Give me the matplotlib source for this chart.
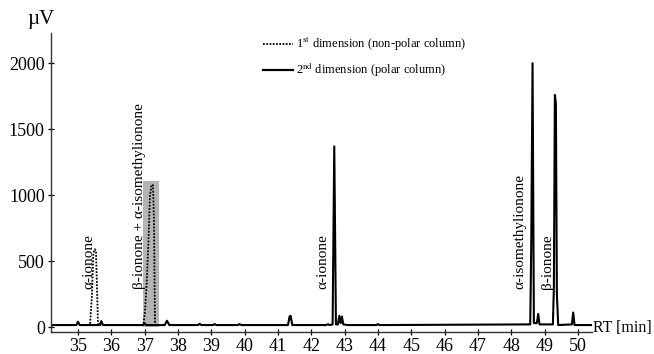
import matplotlib
matplotlib.use("Agg")
from matplotlib import pyplot as plt

plt.rcParams['font.family'] = ['Liberation Serif', 'DejaVu Serif']
plt.rcParams['mathtext.fontset'] = 'stix'

# 2nd dimension (polar column) trace
rt_2nd = [34.2, 34.95, 35.0, 35.05, 35.65, 35.7, 35.75, 36.95, 37.0, 37.05,
          37.6, 37.67, 37.74, 38.6, 38.65, 38.7, 39.05, 39.1, 39.15, 39.8, 39.85, 39.9,
          41.3, 41.35, 41.38, 41.43, 42.45, 42.5, 42.55, 42.64, 42.69, 42.74,
          42.8, 42.84, 42.88, 42.92, 42.96, 43.1, 43.95, 44.0, 44.05,
          48.57, 48.6, 48.64, 48.68, 48.77, 48.81, 48.85, 49.25, 49.28, 49.31,
          49.34, 49.37, 49.41, 49.82, 49.86, 49.9, 50.42]
uv_2nd = [15, 15, 40, 15, 15, 45, 15, 15, 28, 15,
          15, 48, 15, 15, 25, 15, 15, 22, 15, 15, 22, 15,
          15, 80, 85, 15, 15, 22, 15, 20, 1370, 20,
          20, 85, 30, 80, 20, 15, 15, 22, 15,
          20, 600, 2000, 30, 30, 100, 20, 20, 300, 1760,
          1700, 250, 15, 20, 110, 15, 15]

# 1st dimension (non-polar column) trace, only the heart-cut peaks
rt_1st = [35.3, 35.36, 35.42, 35.46, 35.5, 35.54, 35.57, 35.6, 35.65,
          36.9, 36.96, 37.01, 37.06, 37.11, 37.16, 37.21, 37.25, 37.28, 37.31, 37.36]
uv_1st = [15, 15, 250, 560, 590, 580, 300, 15, 15,
          15, 15, 120, 330, 620, 1000, 1080, 1075, 800, 20, 15]

# heart-cut window
cut_start, cut_end, cut_top = 36.96, 37.44, 1106

peak_labels = ["\u03b1-ionone", "\u03b2-ionone + \u03b1-isomethylionone", "\u03b1-ionone",
               "\u03b1-isomethylionone", "\u03b2-ionone"]
label_rt = [35.33, 36.86, 42.35, 48.27, 49.08]

x_ticks = list(range(35, 51))
y_ticks = [0, 500, 1000, 1500, 2000]

legend_labels = ["1$^{\\mathrm{st}}$ dimension (non-polar column)",
                 "2$^{\\mathrm{nd}}$ dimension (polar column)"]
dotted = (0, (1, 0.8))

fig = plt.figure(figsize=(6.54, 3.54), dpi=100)
ax = fig.add_axes([0.078, 0.062, 0.827, 0.845])

ax.add_patch(plt.Rectangle((cut_start, 0), cut_end - cut_start, cut_top,
                           color="#b4b4b4", lw=0, zorder=1))
ax.plot(rt_1st, uv_1st, color="black", lw=1.3, ls=dotted, zorder=3)
ax.plot(rt_2nd, uv_2nd, color="black", lw=1.5, zorder=2)

for txt, x in zip(peak_labels, label_rt):
    ax.text(x, 290, txt, rotation=90, ha="center", va="bottom", fontsize=11, zorder=4)

ax.set_xlim(34.19, 50.42)
ax.set_ylim(-38, 2230)
ax.set_xticks(x_ticks)
ax.set_yticks(y_ticks)
ax.tick_params(direction="inout", length=5, width=0.9, labelsize=13, pad=2, colors="black")
for s in ["top", "right"]:
    ax.spines[s].set_visible(False)
for s in ["left", "bottom"]:
    ax.spines[s].set_linewidth(1.0)
    ax.spines[s].set_color("#333333")

# legend drawn by hand to match the placement
for yy, ls, lw, lab in zip([0.963, 0.876], [dotted, "-"], [1.3, 1.6], legend_labels):
    ax.plot([0.392, 0.447], [yy, yy], transform=ax.transAxes, color="black",
            ls=ls, lw=lw, clip_on=False)
    ax.text(0.453, yy, lab, transform=ax.transAxes, fontsize=9, ha="left", va="center")

fig.text(0.042, 0.945, "\u00b5V", fontsize=15, ha="left", va="center")
fig.text(0.906, 0.073, "RT [min]", fontsize=11.5, ha="left", va="center")

fig.savefig("out.png", dpi=100)
